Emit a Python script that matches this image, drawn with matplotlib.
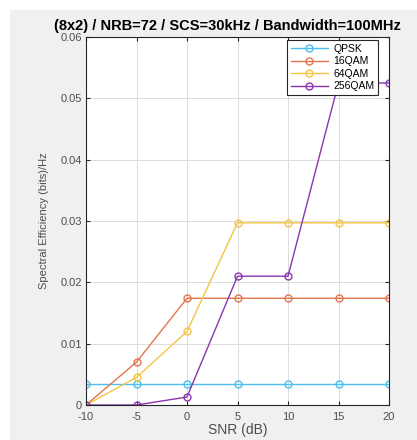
import matplotlib
matplotlib.use('Agg')
import matplotlib.pyplot as plt
from matplotlib.patches import Rectangle

# data
snr = [-10, -5, 0, 5, 10, 15, 20]
qpsk = [0.0034, 0.0034, 0.0034, 0.0034, 0.0034, 0.0034, 0.0034]
qam16 = [0.0, 0.0070, 0.0174, 0.0174, 0.0174, 0.0174, 0.0174]
qam64 = [0.0, 0.0045, 0.0120, 0.0297, 0.0297, 0.0297, 0.0297]
qam256 = [0.0, 0.0, 0.0013, 0.0210, 0.0210, 0.0525, 0.0525]
labels = ['QPSK', '16QAM', '64QAM', '256QAM']
colors = ['#4DBEEE', '#E2754F', '#F3C545', '#8A35B0']

plt.rcParams['font.family'] = ['Liberation Sans', 'DejaVu Sans']
plt.rcParams['axes.unicode_minus'] = False

fig = plt.figure(figsize=(4.17, 4.40), dpi=100, facecolor='white')
# grey MATLAB-like figure background
fig.patches.append(Rectangle((10 / 417, 0), 1, 1 - 10 / 440, transform=fig.transFigure,
                             facecolor='#f0f0f0', edgecolor='none', zorder=-1))

ax = fig.add_axes([86 / 417, 35 / 440, 303 / 417, 368 / 440])
for ys, lab, c in zip([qpsk, qam16, qam64, qam256], labels, colors):
    ax.plot(snr, ys, '-o', color=c, label=lab, linewidth=1.0, markersize=5,
            markerfacecolor='none', markeredgewidth=1.0)

ax.set_xlim(-10, 20)
ax.set_ylim(0, 0.06)
ax.set_xticks(snr)
ax.set_yticks([0, 0.01, 0.02, 0.03, 0.04, 0.05, 0.06])
ax.set_yticklabels(['0', '0.01', '0.02', '0.03', '0.04', '0.05', '0.06'])
ax.tick_params(direction='in', top=True, right=True, labelsize=8, length=3,
               colors='#262626', labelcolor='#4d4d4d', pad=3)
ax.tick_params(axis='x', pad=5)
ax.grid(True, color='#dcdcdc', linewidth=0.7)
for s in ax.spines.values():
    s.set_color('#262626')
    s.set_linewidth(0.8)

ax.set_xlabel('SNR (dB)', fontsize=10, color='#4d4d4d', labelpad=1)
ax.set_ylabel('Spectral Efficiency (bits)/Hz', fontsize=8, color='#4d4d4d', labelpad=8)
ax.text(-0.105, 1.012, '(8x2) / NRB=72 / SCS=30kHz / Bandwidth=100MHz',
        transform=ax.transAxes, fontsize=10.5, fontweight='bold', ha='left', va='bottom')

leg = ax.legend(loc='upper right', fontsize=7.5, fancybox=False, framealpha=1,
                edgecolor='#262626', borderpad=0.35, labelspacing=0.25,
                handlelength=3.6, handletextpad=0.5, borderaxespad=0.0,
                bbox_to_anchor=(0.964, 0.992))
leg.get_frame().set_linewidth(0.8)

fig.savefig('out.png', dpi=100)
